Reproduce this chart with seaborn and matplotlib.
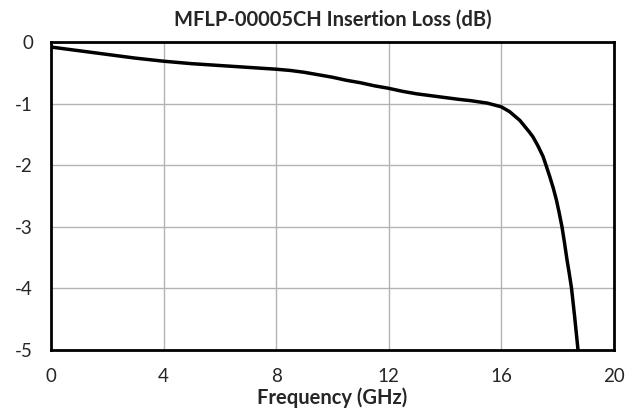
import numpy as np
import pandas as pd
import matplotlib
matplotlib.use("Agg")
import matplotlib.pyplot as plt
import seaborn as sns

freq_ghz = [0, 1, 2, 3, 4, 5, 6, 7, 8, 8.5, 9, 9.5, 10, 10.5, 11, 11.5, 12,
            12.5, 13, 13.5, 14, 14.5, 14.9, 15.5,
            16, 16.3, 16.66, 17, 17.13, 17.3, 17.49, 17.6, 17.73, 17.85,
            17.96, 18.06, 18.16, 18.25, 18.34, 18.42, 18.5, 18.61, 18.73]
loss_db = [-0.08, -0.14, -0.2, -0.26, -0.31, -0.35, -0.38, -0.41, -0.44,
           -0.46, -0.49, -0.53, -0.57, -0.62, -0.66, -0.71, -0.75,
           -0.80, -0.84, -0.87, -0.9, -0.93, -0.95, -0.99,
           -1.05, -1.13, -1.27, -1.46, -1.54, -1.68, -1.86, -2.01, -2.19,
           -2.37, -2.56, -2.77, -3.0, -3.26, -3.54, -3.76, -4.0, -4.46, -5.0]
x_ticks = [0, 4, 8, 12, 16, 20]
y_ticks = [0, -1, -2, -3, -4, -5]

sns.set_style("whitegrid")
plt.rcParams['font.family'] = ['Lato', 'DejaVu Sans']

df = pd.DataFrame({"freq": freq_ghz, "loss": loss_db})

fig = plt.figure(figsize=(6.42, 4.17), dpi=100)
ax = fig.add_axes([0.0794, 0.1607, 0.8766, 0.7383])
sns.lineplot(data=df, x="freq", y="loss", ax=ax, color="black", linewidth=2.5)

ax.set_xlim(0, 20)
ax.set_ylim(-5, 0)
ax.set_xticks(x_ticks)
ax.set_yticks(y_ticks)
ax.set_yticklabels([str(v) for v in y_ticks])
ax.grid(True, color="#b3b3b3", linewidth=1.0)
for s in ax.spines.values():
    s.set_color("black")
    s.set_linewidth(2.0)
ax.tick_params(axis="both", labelsize=13.5, length=0)
ax.tick_params(axis="x", pad=13)
ax.tick_params(axis="y", pad=13)
ax.set_xlabel("Frequency (GHz)", fontsize=14.5, fontweight="bold", labelpad=2)
ax.set_ylabel("")
ax.set_title("MFLP-00005CH Insertion Loss (dB)", fontsize=14.5, fontweight="bold", pad=12)

fig.savefig("out.png", dpi=100)
